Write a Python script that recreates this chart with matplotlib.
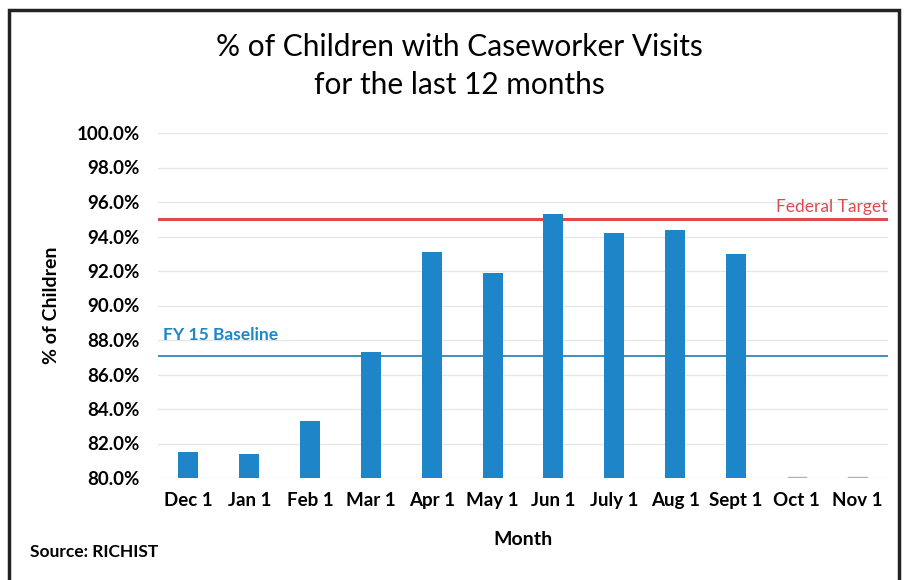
import matplotlib.pyplot as plt
from matplotlib.patches import Rectangle
import numpy as np

plt.rcParams['font.family'] = ['Lato', 'DejaVu Sans']

months = ['Dec 1', 'Jan 1', 'Feb 1', 'Mar 1', 'Apr 1', 'May 1', 'Jun 1',
          'July 1', 'Aug 1', 'Sept 1', 'Oct 1', 'Nov 1']
pct_visits = [81.5, 81.4, 83.3, 87.3, 93.1, 91.9, 95.3, 94.2, 94.4, 93.0, np.nan, np.nan]
federal_target = 95.0
fy15_baseline = 87.1

fig = plt.figure(figsize=(9.05, 5.8), dpi=100)
ax = fig.add_axes([158 / 905, 1 - 478 / 580, 730 / 905, 345 / 580])

x = np.arange(len(months))
ax.bar(x, pct_visits, width=0.33, bottom=0, color='#1e86c8', zorder=3)
# tiny marks where no data yet
for i, v in enumerate(pct_visits):
    if np.isnan(v):
        ax.plot([i - 0.15, i + 0.15], [80.03, 80.03], color='#b0b0b0', lw=1, zorder=3)

ax.axhline(federal_target, color='#e2474f', lw=2.2, zorder=2)
ax.axhline(fy15_baseline, color='#3f8fbf', lw=1.4, zorder=2)
ax.text(len(months) - 0.52, federal_target + 0.25, 'Federal Target', color='#e2474f',
        ha='right', va='bottom', fontsize=12.5)
ax.text(-0.42, fy15_baseline + 0.7, 'FY 15 Baseline', color='#1e86c8',
        ha='left', va='bottom', fontsize=12.5, fontweight='bold')

ax.set_ylim(80, 100)
ax.set_xlim(-0.5, len(months) - 0.5)
ax.set_yticks(np.arange(80, 100.1, 2))
ax.set_yticklabels([f'{v:.1f}%' for v in np.arange(80, 100.1, 2)])
ax.set_xticks(x)
ax.set_xticklabels(months)
ax.tick_params(axis='y', length=0, labelsize=13.5, pad=13)
ax.tick_params(axis='x', length=0, labelsize=13.5, pad=10)
for lab in ax.get_xticklabels() + ax.get_yticklabels():
    lab.set_fontweight('bold')
ax.grid(axis='y', color='#e6e6e6', lw=1, zorder=0)
for s in ax.spines.values():
    s.set_visible(False)

ax.set_xlabel('Month', fontsize=14, fontweight='bold', labelpad=16)
ax.set_ylabel('% of Children', fontsize=14, fontweight='bold', labelpad=12)
fig.text(0.5 * (213 + 706) / 905, 1 - 66 / 580,
         '% of Children with Caseworker Visits\nfor the last 12 months',
         ha='center', va='center', fontsize=21.5, linespacing=1.45)
fig.text(30 / 905, 1 - 552 / 580, 'Source: RICHIST', fontsize=12.5,
         fontweight='bold', va='center')

fig.patches.append(Rectangle((9 / 905, -0.01), 890 / 905, 1 - 10 / 580 + 0.01,
                             transform=fig.transFigure, fill=False,
                             edgecolor='#222222', lw=2.5))

fig.savefig('out.png', dpi=100)
